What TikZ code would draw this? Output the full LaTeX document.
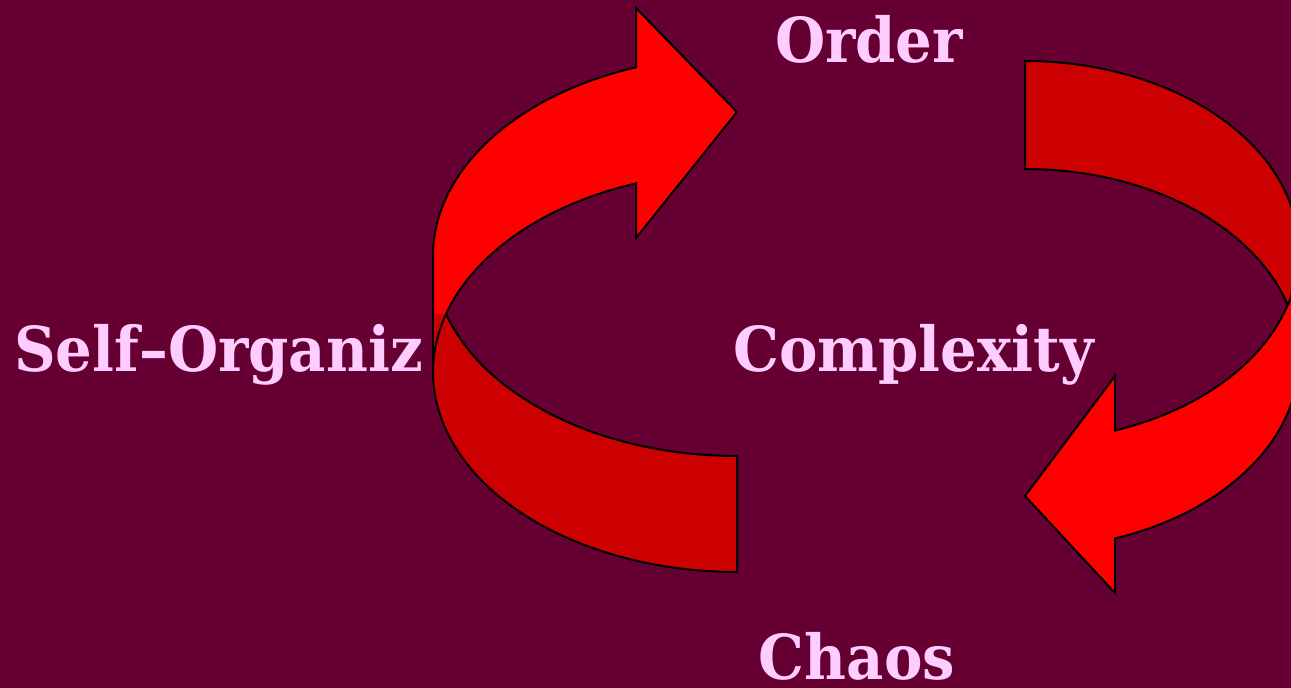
\documentclass[tikz,border=0pt]{standalone}
\usepackage{fontspec}
\newfontfamily\lblfont{DejaVu Serif}[FakeStretch=0.93]
\definecolor{bg}{HTML}{660033}
\definecolor{brightred}{HTML}{FF0000}
\definecolor{darkred}{HTML}{CC0000}
\definecolor{pinktext}{HTML}{FFCCFF}
\begin{document}
\begin{tikzpicture}[x=1pt,y=1pt,
  lbl/.style={text=pinktext, font=\lblfont\bfseries\fontsize{62}{70}\selectfont, inner sep=0pt},
  arrowline/.style={draw=black, line width=2pt, line join=miter}]
\clip (0,0) rectangle (1291,688);
\fill[bg] (0,0) rectangle (1291,688);
% labels
\node[lbl, anchor=base] (order) at (869,625) {Order};
\node[lbl, anchor=base west] (self) at (14,316) {Self–Organiz};
\node[lbl, anchor=base west] (cplx) at (733,316) {Complexity};
\node[lbl, anchor=base] (chaos) at (857,8) {Chaos};
% left arrow: front (bright) part
\filldraw[fill=brightred, arrowline] (433,316) -- (433,432)
  arc[start angle=180, end angle=109.4, x radius=304, y radius=200]
  -- (636,680) -- (737,576) -- (636,450) -- (636,504.6)
  arc[start angle=109.4, end angle=180, x radius=304, y radius=200] -- cycle;
% left arrow: back (dark) part
\fill[darkred] (433,374) -- (433,316)
  arc[start angle=180, end angle=270, x radius=304, y radius=200]
  -- (737,232)
  arc[start angle=270, end angle=196.86, x radius=304, y radius=200] -- cycle;
\draw[arrowline] (446.1,374)
  arc[start angle=163.14, end angle=270, x radius=304, y radius=200]
  -- (737,232)
  arc[start angle=270, end angle=196.86, x radius=304, y radius=200];
\draw[arrowline] (433,316) -- (433,432);
% right arrow: front (bright) part
\filldraw[fill=brightred, arrowline] (1299,437) -- (1299,329)
  arc[start angle=0, end angle=-70.82, x radius=274, y radius=190]
  -- (1115,95) -- (1025,192) -- (1115,312) -- (1115,257.5)
  arc[start angle=-70.82, end angle=0, x radius=274, y radius=190] -- cycle;
% right arrow: back (dark) part
\fill[darkred] (1299,383) -- (1299,437)
  arc[start angle=0, end angle=90, x radius=274, y radius=190]
  -- (1025,519)
  arc[start angle=90, end angle=16.51, x radius=274, y radius=190] -- cycle;
\draw[arrowline] (1287.7,383)
  arc[start angle=-16.51, end angle=90, x radius=274, y radius=190]
  -- (1025,519)
  arc[start angle=90, end angle=16.51, x radius=274, y radius=190];
\end{tikzpicture}
\end{document}
